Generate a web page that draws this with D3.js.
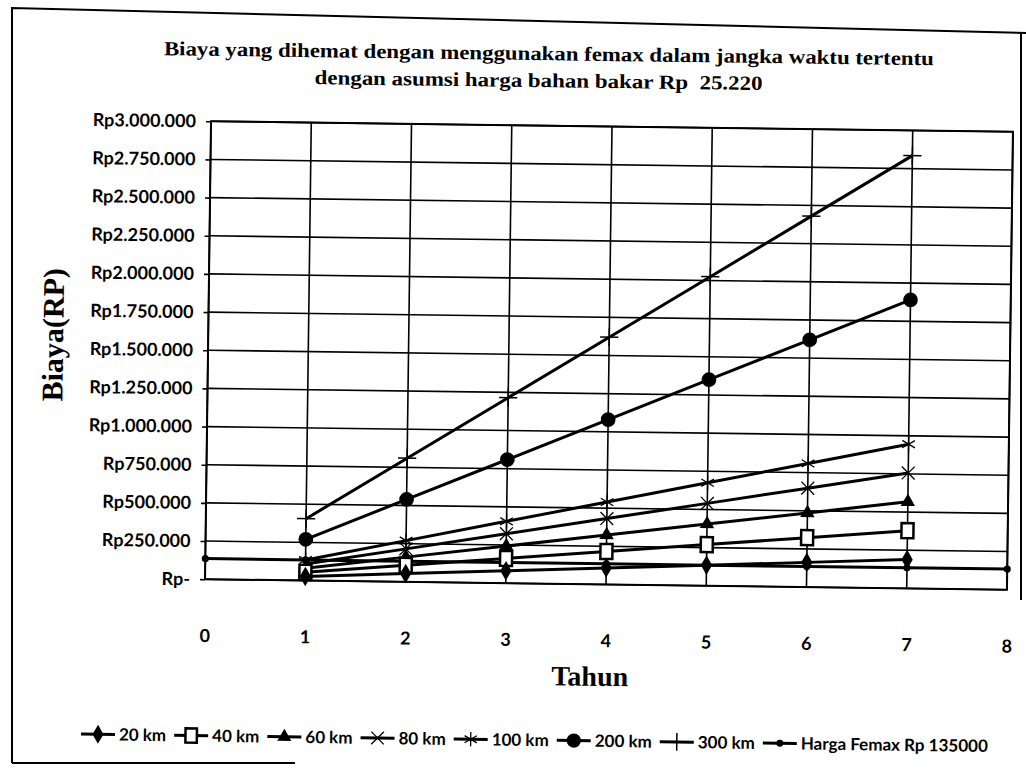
<!DOCTYPE html>
<html><head><meta charset="utf-8">
<script src="https://cdn.jsdelivr.net/npm/d3@7"></script>
<style>body{margin:0;background:#fff}svg{display:block}</style>
</head><body>
<svg id="chart" width="1026" height="769"></svg>
<script>
// ---- data ----
const years = [1, 2, 3, 4, 5, 6, 7];
const xTicks = [0, 1, 2, 3, 4, 5, 6, 7, 8];
const yTicks = [0, 250000, 500000, 750000, 1000000, 1250000, 1500000, 1750000, 2000000, 2250000, 2500000, 2750000, 3000000];
const yTickLabels = ["Rp-", "Rp250.000", "Rp500.000", "Rp750.000", "Rp1.000.000", "Rp1.250.000", "Rp1.500.000", "Rp1.750.000", "Rp2.000.000", "Rp2.250.000", "Rp2.500.000", "Rp2.750.000", "Rp3.000.000"];
const km20  = [27000, 54000, 81000, 108000, 135000, 162000, 189000];
const km40  = [54000, 108000, 162000, 216000, 270000, 324000, 378000];
const km60  = [81000, 162000, 243000, 324000, 405000, 486000, 567000];
const km80  = [108000, 216000, 324000, 432000, 540000, 648000, 756000];
const km100 = [135000, 270000, 405000, 540000, 675000, 810000, 945000];
const km200 = [270000, 540000, 810000, 1080000, 1350000, 1620000, 1890000];
const km300 = [405000, 810000, 1215000, 1620000, 2025000, 2430000, 2835000];
const femaxX = [0, 1, 2, 3, 4, 5, 6, 7, 8];
const femaxY = [135000, 135000, 135000, 135000, 135000, 135000, 135000, 135000, 135000];
const seriesNames = ["20 km", "40 km", "60 km", "80 km", "100 km", "200 km", "300 km", "Harga Femax Rp 135000"];
const titleLines = ["Biaya yang dihemat dengan menggunakan femax dalam jangka waktu tertentu", "dengan asumsi harga bahan bakar Rp  25.220"];
const xTitle = "Tahun";
const yTitle = "Biaya(RP)";

const series = [
  {name: seriesNames[0], xs: years, ys: km20, m: "diamond"},
  {name: seriesNames[1], xs: years, ys: km40, m: "square"},
  {name: seriesNames[2], xs: years, ys: km60, m: "triangle"},
  {name: seriesNames[3], xs: years, ys: km80, m: "times"},
  {name: seriesNames[4], xs: years, ys: km100, m: "asterisk"},
  {name: seriesNames[5], xs: years, ys: km200, m: "circle"},
  {name: seriesNames[6], xs: years, ys: km300, m: "plus"},
  {name: seriesNames[7], xs: femaxX, ys: femaxY, m: "dot"}
];

const svg = d3.select("#chart");
const L = 208, R = 1010, T = 126.5, B = 584.5;
const x = d3.scaleLinear().domain([0, 8]).range([L, R]);
const y = d3.scaleLinear().domain([0, 3000000]).range([B, T]);

// outer frame (scan page border)
const frame = svg.append("g").attr("fill", "none").attr("stroke", "#000").attr("stroke-width", 2);
frame.append("path").attr("d", "M12,763 L12,8 L1026,33");
frame.append("path").attr("d", "M1021,33 L1021,600");
frame.append("path").attr("d", "M12,763 L295,763");

const g = svg.append("g").attr("transform", "rotate(0.75,609,355)");

// gridlines
g.append("g").selectAll("line").data(yTicks).join("line")
  .attr("x1", L).attr("x2", R).attr("y1", d => y(d)).attr("y2", d => y(d))
  .attr("stroke", "#000").attr("stroke-width", 1.6);
g.append("g").selectAll("line").data(xTicks).join("line")
  .attr("y1", T).attr("y2", B).attr("x1", d => x(d)).attr("x2", d => x(d))
  .attr("stroke", "#000").attr("stroke-width", 1.6);

// axes labels
const yAxis = d3.axisLeft(y).tickValues(yTicks).tickFormat((d, i) => yTickLabels[i]).tickSize(5).tickPadding(10);
const ya = g.append("g").attr("transform", `translate(${L},0)`).call(yAxis);
ya.select(".domain").remove();
ya.selectAll("line").attr("stroke", "#000").attr("stroke-width", 1.6);
ya.selectAll("text").attr("font-family", "Lato").attr("font-weight", "bold").attr("font-size", 18).attr("fill", "#000");

const xAxis = d3.axisBottom(x).tickValues(xTicks).tickFormat(d3.format("d")).tickSize(0).tickPadding(50);
const xa = g.append("g").attr("transform", `translate(0,${B})`).call(xAxis);
xa.select(".domain").remove();
xa.selectAll("text").attr("font-family", "Lato").attr("font-weight", "bold").attr("font-size", 18).attr("fill", "#000");

// titles
const tl = [770, 448];
g.append("g").selectAll("text").data(titleLines).join("text")
  .attr("x", (d, i) => i ? 535 : 545).attr("y", (d, i) => 61 + i * 27).attr("text-anchor", "middle")
  .attr("font-family", "Liberation Serif").attr("font-weight", "bold").attr("font-size", 20)
  .attr("textLength", (d, i) => tl[i]).attr("lengthAdjust", "spacingAndGlyphs")
  .style("white-space", "pre").text(d => d);
g.append("text").attr("x", 594).attr("y", 686).attr("text-anchor", "middle")
  .attr("font-family", "Liberation Serif").attr("font-weight", "bold").attr("font-size", 28).text(xTitle);
g.append("text").attr("transform", "translate(63,342) rotate(-90)").attr("text-anchor", "middle")
  .attr("font-family", "Liberation Serif").attr("font-weight", "bold").attr("font-size", 30).text(yTitle);

// markers
function marker(sel, type, cx, cy, scale) {
  const k = scale || 1;
  const t = `translate(${cx},${cy})`;
  if (type === "diamond") sel.append("path").attr("transform", t).attr("d", d3.symbol(d3.symbolDiamond, 110 * k)()).attr("fill", "#000");
  else if (type === "square") sel.append("rect").attr("x", cx - 6 * k).attr("y", cy - 7.5 * k).attr("width", 12 * k).attr("height", 15 * k).attr("fill", "#fff").attr("stroke", "#000").attr("stroke-width", 2.5);
  else if (type === "triangle") sel.append("path").attr("transform", t).attr("d", d3.symbol(d3.symbolTriangle, 90 * k)()).attr("fill", "#000");
  else if (type === "times") sel.append("path").attr("transform", t).attr("d", d3.symbol(d3.symbolTimes, 110 * k)()).attr("fill", "none").attr("stroke", "#000").attr("stroke-width", 1.3);
  else if (type === "asterisk") sel.append("path").attr("transform", t).attr("d", d3.symbol(d3.symbolAsterisk, 150 * k)()).attr("fill", "none").attr("stroke", "#000").attr("stroke-width", 1.3);
  else if (type === "circle") sel.append("path").attr("transform", t).attr("d", d3.symbol(d3.symbolCircle, 170 * k)()).attr("fill", "#000");
  else if (type === "plus") sel.append("path").attr("transform", t).attr("d", d3.symbol(d3.symbolPlus, 110 * k)()).attr("fill", "none").attr("stroke", "#000").attr("stroke-width", 1.5);
  else if (type === "dot") sel.append("path").attr("transform", t).attr("d", d3.symbol(d3.symbolCircle, 40 * k)()).attr("fill", "#000");
}

const line = d3.line().x(d => x(d[0])).y(d => y(d[1]));
const sg = g.append("g");
series.slice().reverse().forEach(s => {
  const pts = s.xs.map((v, i) => [v, s.ys[i]]);
  sg.append("path").attr("d", line(pts)).attr("fill", "none").attr("stroke", "#000").attr("stroke-width", 3);
});
series.slice().reverse().forEach(s => {
  s.xs.forEach((v, i) => marker(sg, s.m, x(v), y(s.ys[i])));
});

// plot border
g.append("rect").attr("x", L).attr("y", T).attr("width", R - L).attr("height", B - T)
  .attr("fill", "none").attr("stroke", "#000").attr("stroke-width", 2);

// legend
const lg = g.append("g").attr("transform", "translate(86,741)");
let cx = 0;
series.forEach(s => {
  const it = lg.append("g").attr("transform", `translate(${cx},0)`);
  it.append("line").attr("x1", 0).attr("x2", 34).attr("y1", 0).attr("y2", 0).attr("stroke", "#000").attr("stroke-width", 3);
  marker(it, s.m, 17, 0, 0.95);
  const tx = it.append("text").attr("x", 38).attr("y", 6).attr("font-family", "Lato").attr("font-weight", "bold")
    .attr("font-size", 17).text(s.name);
  cx += 38 + tx.node().getComputedTextLength() + 8;
});
</script>
</body></html>
